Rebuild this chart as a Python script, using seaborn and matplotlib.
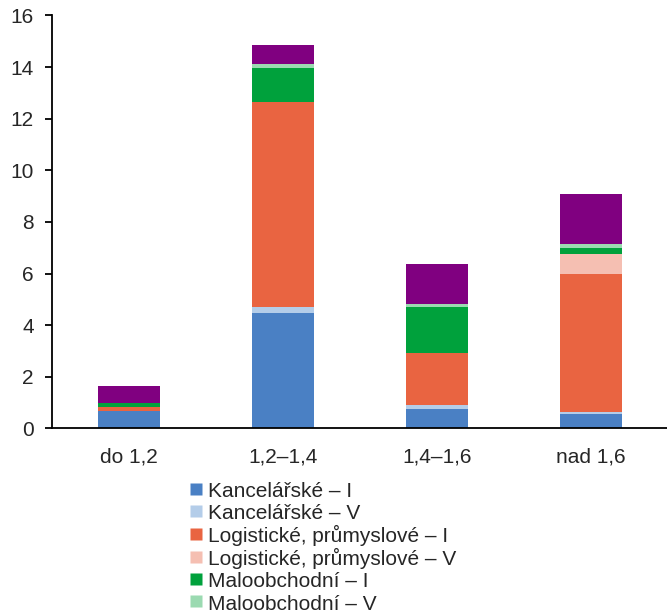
import matplotlib
matplotlib.use("Agg")
import matplotlib.pyplot as plt
from matplotlib.lines import Line2D
import pandas as pd
import seaborn as sns

# Yield bands (categories on the x axis)
categories = ["do 1,2", "1,2–1,4", "1,4–1,6", "nad 1,6"]

# Series, bottom to top of each stack
series = [
    "Kancelářské – I",
    "Kancelářské – V",
    "Logistické, průmyslové – I",
    "Logistické, průmyslové – V",
    "Maloobchodní – I",
    "Maloobchodní – V",
    "Ostatní",
]
kancelarske_i = [0.67, 4.47, 0.76, 0.56]
kancelarske_v = [0.02, 0.23, 0.15, 0.06]
logisticke_i = [0.15, 7.96, 2.00, 5.37]
logisticke_v = [0.01, 0.00, 0.00, 0.77]
maloobchodni_i = [0.13, 1.32, 1.78, 0.23]
maloobchodni_v = [0.02, 0.16, 0.15, 0.14]
ostatni = [0.64, 0.73, 1.52, 1.95]

colors = ["#4a80c4", "#b4cde9", "#e96441", "#f5bfb2", "#00a13c", "#9bdab1", "#800080"]

values = [kancelarske_i, kancelarske_v, logisticke_i, logisticke_v,
          maloobchodni_i, maloobchodni_v, ostatni]

rows = []
for name, vals in zip(series, values):
    for cat, v in zip(categories, vals):
        rows.append({"kategorie": cat, "segment": name, "hodnota": v})
df = pd.DataFrame(rows)
df["kategorie"] = pd.Categorical(df["kategorie"], categories=categories, ordered=True)

sns.set_style("white")
plt.rcParams["font.family"] = ["Liberation Sans", "DejaVu Sans"]

fig = plt.figure(figsize=(6.67, 6.15), dpi=100)
ax = fig.add_axes([0.078, 0.3033, 0.93, 0.6715])

# histplot stacks the first hue level on top, so pass the order reversed
sns.histplot(
    data=df, x="kategorie", weights="hodnota", hue="segment",
    hue_order=series[::-1], palette=dict(zip(series, colors)),
    multiple="stack", discrete=True, shrink=0.40,
    edgecolor="none", linewidth=0, alpha=1, legend=False, ax=ax,
)

ax.set_ylim(0, 16)
ax.set_yticks(range(0, 17, 2))
ax.set_xlim(-0.5, 3.53)
ax.set_xticks(range(len(categories)))
ax.set_xticklabels(categories)
ax.set_xlabel("")
ax.set_ylabel("")

for side in ("top", "right"):
    ax.spines[side].set_visible(False)
for side in ("left", "bottom"):
    ax.spines[side].set_color("black")
    ax.spines[side].set_linewidth(1.3)

ax.tick_params(axis="y", which="major", direction="out", length=5, width=1.3,
               color="black", labelsize=15, pad=8, left=True)
ax.tick_params(axis="x", which="major", length=0, labelsize=15, pad=14)

# Legend lists the six main segments
n_leg = 6
handles = [Line2D([], [], marker="s", linestyle="none", markersize=8,
                  markerfacecolor=c, markeredgecolor="none") for c in colors[:n_leg]]
fig.legend(
    handles, series[:n_leg], loc="upper left", bbox_to_anchor=(0.2821, 0.219),
    frameon=False, fontsize=15, handlelength=0.8, handleheight=1.0,
    handletextpad=0.15, labelspacing=0.09, borderaxespad=0, borderpad=0,
)

fig.savefig("out.png", dpi=100)
